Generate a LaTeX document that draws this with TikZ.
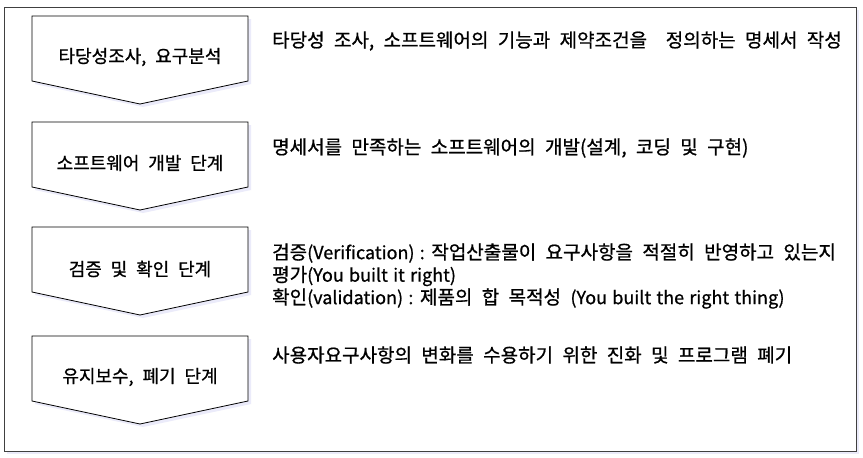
\documentclass[tikz,border=0pt]{standalone}
\usepackage{fontspec}
\setmainfont{Noto Sans CJK KR}[FakeBold=0.8, WordSpace=2.2]
\newfontfamily\latfam{Noto Sans CJK KR}[FakeBold=0.8, WordSpace=1.3]
\newcommand{\lat}[1]{{\fontsize{18}{22.5}\latfam #1}}
\begin{document}
\begin{tikzpicture}[x=1pt,y=-1pt,
  shp/.style={draw=black, fill=white, line width=0.8pt, line join=miter},
  shd/.style={fill=black!25!blue!8!white, draw=none},
  lbl/.style={font=\fontsize{18}{20}\selectfont, inner sep=0pt},
  desc/.style={font=\fontsize{19}{22.5}\selectfont, inner sep=0pt, anchor=west, align=left}]
\useasboundingbox (0,0) rectangle (863,458);
% outer frame
\fill[black!25!blue!8!white] (7,10) rectangle (859,454);
\draw[draw=black!75, fill=white, line width=1pt] (4,7) rectangle (856,451);
% stage shapes
\foreach \t/\n in {16/a,122/b,227/c,336/d}{
  \fill[shd] (35,\t+3) -- (251,\t+3) -- (251,\t+68) -- (143,\t+91) -- (35,\t+68) -- cycle;
  \draw[shp] (32,\t) -- (248,\t) -- (248,\t+65) -- (140,\t+88) -- (32,\t+65) -- cycle;
}
\node[lbl] (n1) at (140,57) {타당성조사, 요구분석};
\node[lbl] (n2) at (140,163) {소프트웨어 개발 단계};
\node[lbl] (n3) at (140,269) {검증 및 확인 단계};
\node[lbl] (n4) at (140,377) {유지보수, 폐기 단계};
\node[desc] (d1) at (272,41) {타당성 조사, 소프트웨어의 기능과 제약조건을 \ 정의하는 명세서 작성};
\node[desc] (d2) at (272,148) {명세서를 만족하는 소프트웨어의 개발(설계, 코딩 및 구현)};
\node[desc] (d3) at (272,276) {검증\lat{(Verification) : }작업산출물이 요구사항을 적절히 반영하고 있는지\\평가\lat{(You built it right)}\\확인\lat{(validation) : }제품의 합 목적성 \lat{(You built the right thing)}};
\node[desc] (d4) at (272,355) {사용자요구사항의 변화를 수용하기 위한 진화 및 프로그램 폐기};
\end{tikzpicture}
\end{document}
